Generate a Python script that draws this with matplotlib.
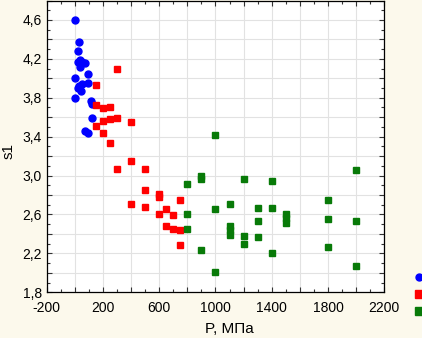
# libraries
import matplotlib
matplotlib.use("Agg")
import matplotlib.pyplot as plt
from matplotlib.ticker import MultipleLocator, FuncFormatter
from matplotlib.lines import Line2D

plt.rcParams['font.family'] = ['Liberation Sans', 'DejaVu Sans']
plt.rcParams['axes.unicode_minus'] = False

# data: P (MPa) and s1 for three groups
blue_p = [0, 30, 20, 20, 35, 50, 70, 35, 95, 0, 95, 50, 30, 20, 45, 0, 115, 120, 120, 70, 95]
blue_s = [4.60, 4.37, 4.28, 4.17, 4.19, 4.17, 4.16, 4.12, 4.04, 4.00, 3.95, 3.94, 3.92, 3.90,
          3.87, 3.80, 3.77, 3.74, 3.59, 3.46, 3.44]

red_p = [150, 300, 150, 200, 250, 200, 250, 300, 150, 400, 200, 250, 400, 300, 500, 500,
         600, 600, 400, 750, 500, 650, 600, 700, 650, 700, 750, 750]
red_s = [3.93, 4.10, 3.73, 3.69, 3.71, 3.56, 3.58, 3.59, 3.51, 3.55, 3.44, 3.33, 3.15, 3.07,
         3.07, 2.85, 2.81, 2.78, 2.71, 2.75, 2.68, 2.66, 2.60, 2.59, 2.48, 2.45, 2.44, 2.29]

green_p = [800, 900, 900, 1000, 1000, 800, 800, 900, 1000, 1100, 1100, 1100, 1100, 1200, 1200,
           1200, 1300, 1300, 1300, 1400, 1400, 1400, 1500, 1500, 1500, 1800, 1800, 1800,
           2000, 2000, 2000]
green_s = [2.91, 3.00, 2.96, 3.42, 2.66, 2.61, 2.45, 2.24, 2.01, 2.71, 2.48, 2.44, 2.39, 2.96,
           2.38, 2.30, 2.67, 2.53, 2.37, 2.94, 2.67, 2.20, 2.61, 2.56, 2.51, 2.75, 2.55, 2.27,
           3.06, 2.53, 2.07]

# legend texts fall outside the picture in the reference, so only markers remain
group_names = [' ', ' ', ' ']

bg = '#FCF9EC'
fig = plt.figure(figsize=(4.22, 3.38), dpi=100, facecolor=bg)
ax = fig.add_axes([0.1107, 0.1352, 0.7997, 0.8633])

ax.plot(blue_p, blue_s, 'o', ms=5.0, color='#0000FF', mec='#0000FF', zorder=3)
ax.plot(red_p, red_s, 's', ms=4.6, color='#FF0000', mec='#FF0000', zorder=3)
ax.plot(green_p, green_s, 's', ms=4.6, color='#087A08', mec='#087A08', zorder=3)

ax.set_xlim(-200, 2200)
ax.set_ylim(1.8, 4.8)

ax.xaxis.set_major_locator(MultipleLocator(200))
ax.xaxis.set_minor_locator(MultipleLocator(100))
ax.yaxis.set_major_locator(MultipleLocator(0.2))
ax.yaxis.set_minor_locator(MultipleLocator(0.1))

# only every other major tick carries a label
ax.xaxis.set_major_formatter(FuncFormatter(
    lambda v, p: f"{int(round(v))}" if round(v / 200) % 2 else ""))
ax.yaxis.set_major_formatter(FuncFormatter(
    lambda v, p: f"{v:.1f}".replace('.', ',') if round(v * 5) % 2 else ""))

ax.tick_params(which='both', direction='in', top=True, right=True, labelsize=10,
               width=0.8, color='#333333')
ax.tick_params(which='major', length=3.5)
ax.tick_params(which='minor', length=2.5)
ax.tick_params(axis='x', pad=6)
ax.tick_params(axis='y', pad=3.5)

ax.grid(True, which='major', color='#E2E2E2', linewidth=0.8, zorder=0)
ax.set_axisbelow(True)
for s in ax.spines.values():
    s.set_linewidth(0.9)
    s.set_color('black')

ax.set_xlabel("P, МПа", fontsize=11)
ax.xaxis.set_label_coords(0.54, -0.102)
ax.set_ylabel("s1", fontsize=11)
ax.yaxis.set_label_coords(-0.092, 0.485)

handles = [Line2D([], [], marker='o', ls='none', ms=5.0, color='#0000FF'),
           Line2D([], [], marker='s', ls='none', ms=5.5, color='#FF0000'),
           Line2D([], [], marker='s', ls='none', ms=5.5, color='#087A08')]
fig.legend(handles, group_names, loc='upper left', bbox_to_anchor=(0.9797, 0.1997),
           frameon=False, fontsize=10, handlelength=0.8, borderpad=0, borderaxespad=0,
           handletextpad=0.4, labelspacing=0.22)

fig.savefig("out.png", dpi=100, facecolor=bg)
